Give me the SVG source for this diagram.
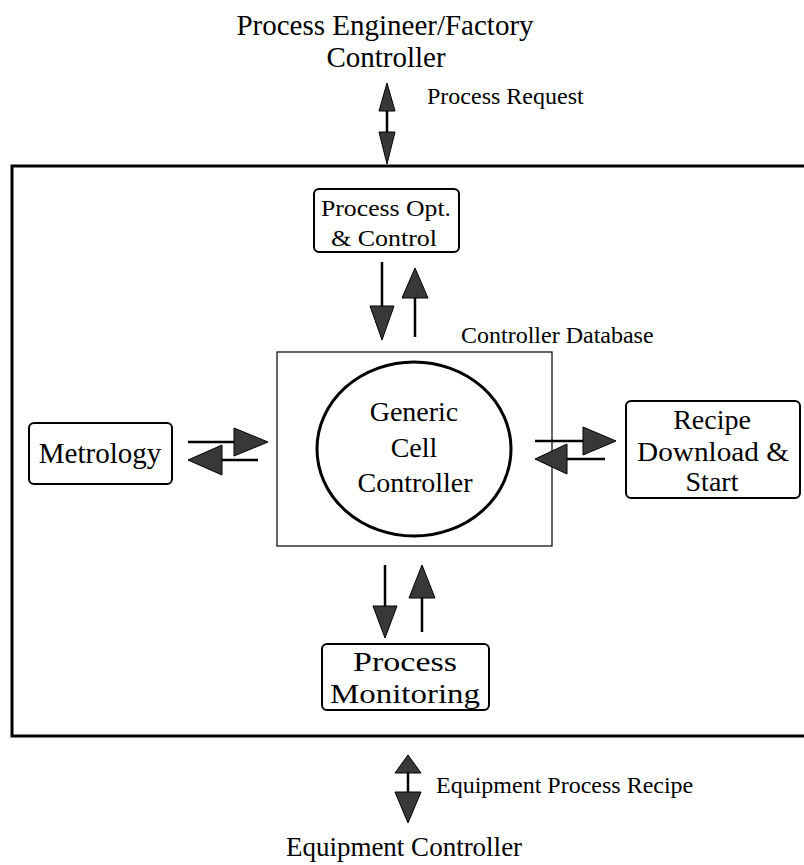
<svg xmlns="http://www.w3.org/2000/svg" width="804" height="865" viewBox="0 0 804 865">
  <style>
    .t { font-family: "Liberation Serif", "Times New Roman", serif; fill: #000; text-anchor: middle; }
    .small { font-size: 24px; text-anchor: start; }
    .box { fill: #fff; stroke: #000; stroke-width: 2; }
    .frame { fill: none; stroke: #000; stroke-width: 3; }
    .shaft { stroke: #000; stroke-width: 2.5; fill: none; }
    .head { fill: #383838; stroke: #000; stroke-width: 1; }
  </style>

  <rect width="804" height="865" fill="#fff"/>

  <!-- cell boundary (open on the right) -->
  <g id="cell-boundary">
    <polyline class="frame" points="804,166 12,166 12,736 804,736"/>
  </g>

  <!-- external labels -->
  <g id="process-engineer">
    <text class="t" font-size="29" x="385" y="35">Process Engineer/Factory</text>
    <text class="t" font-size="29" x="386" y="67">Controller</text>
  </g>
  <g id="equipment-controller">
    <text class="t" font-size="27" x="404" y="856">Equipment Controller</text>
  </g>

  <!-- nodes -->
  <g id="process-opt">
    <rect class="box" x="314" y="189" width="145" height="63" rx="5"/>
    <text class="t" font-size="24" x="386" y="216" textLength="130" lengthAdjust="spacingAndGlyphs">Process Opt.</text>
    <text class="t" font-size="24" x="384" y="246" textLength="106" lengthAdjust="spacingAndGlyphs">&amp; Control</text>
  </g>

  <g id="controller-database">
    <rect x="277" y="352" width="275" height="194" fill="#fff" stroke="#000" stroke-width="1.2"/>
    <text class="t small" x="461" y="343">Controller Database</text>
  </g>

  <g id="generic-cell-controller">
    <ellipse cx="414" cy="449" rx="97" ry="87" fill="#fff" stroke="#000" stroke-width="3"/>
    <text class="t" font-size="28" x="414" y="421">Generic</text>
    <text class="t" font-size="28" x="414" y="457">Cell</text>
    <text class="t" font-size="28" x="415" y="492">Controller</text>
  </g>

  <g id="metrology">
    <rect class="box" x="29" y="423" width="143" height="61" rx="5"/>
    <text class="t" font-size="29" x="100" y="463">Metrology</text>
  </g>

  <g id="recipe-download">
    <rect class="box" x="626" y="401" width="174" height="97" rx="5"/>
    <text class="t" font-size="28" x="712" y="429">Recipe</text>
    <text class="t" font-size="28" x="713" y="461" textLength="152" lengthAdjust="spacingAndGlyphs">Download &amp;</text>
    <text class="t" font-size="28" x="712" y="491">Start</text>
  </g>

  <g id="process-monitoring">
    <rect class="box" x="322" y="644" width="167" height="66" rx="5"/>
    <text class="t" font-size="28" x="405" y="671" textLength="104" lengthAdjust="spacingAndGlyphs">Process</text>
    <text class="t" font-size="28" x="405" y="703" textLength="150" lengthAdjust="spacingAndGlyphs">Monitoring</text>
  </g>

  <!-- connectors -->
  <g id="connectors">
    <!-- process request (two-way) -->
    <line class="shaft" x1="387" y1="108" x2="387" y2="134"/>
    <polygon class="head" points="387,83 379,111 395,111"/>
    <polygon class="head" points="387,164 379,132 395,132"/>
    <text class="t small" x="427" y="104">Process Request</text>

    <!-- process opt <-> database -->
    <line class="shaft" x1="382" y1="262" x2="382" y2="310"/>
    <polygon class="head" points="382,340 370,306 394,306"/>
    <line class="shaft" x1="415" y1="295" x2="415" y2="337"/>
    <polygon class="head" points="415,268 402,298 428,298"/>

    <!-- metrology <-> database -->
    <line class="shaft" x1="188" y1="442" x2="238" y2="442"/>
    <polygon class="head" points="268,442 234,428 234,456"/>
    <line class="shaft" x1="218" y1="460" x2="258" y2="460"/>
    <polygon class="head" points="188,460 222,445 222,475"/>

    <!-- database <-> recipe download -->
    <line class="shaft" x1="535" y1="441" x2="586" y2="441"/>
    <polygon class="head" points="616,441 583,427 583,455"/>
    <line class="shaft" x1="564" y1="459" x2="605" y2="459"/>
    <polygon class="head" points="535,459 567,444 567,474"/>

    <!-- database <-> process monitoring -->
    <line class="shaft" x1="385" y1="565" x2="385" y2="610"/>
    <polygon class="head" points="385,638 373,606 397,606"/>
    <line class="shaft" x1="422" y1="595" x2="422" y2="632"/>
    <polygon class="head" points="422,565 409,598 435,598"/>

    <!-- equipment process recipe (two-way) -->
    <line class="shaft" x1="408" y1="770" x2="408" y2="794"/>
    <polygon class="head" points="408,755 395,773 421,773"/>
    <polygon class="head" points="408,823 395,792 421,792"/>
    <text class="t small" x="436" y="793">Equipment Process Recipe</text>
  </g>
</svg>
